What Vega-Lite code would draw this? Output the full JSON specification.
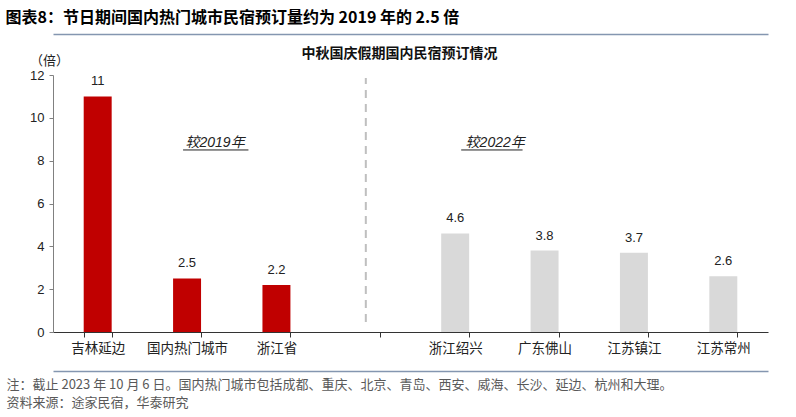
{
  "$schema": "https://vega.github.io/schema/vega-lite/v6.json",
  "width": 715,
  "height": 257,
  "autosize": {"type": "none"},
  "padding": {"left": 53, "top": 75, "right": 28, "bottom": 85},
  "background": "white",
  "config": {"view": {"stroke": null}, "font": "Liberation Sans"},
  "datasets": {
    "bars": [
      {"city": "吉林延边", "ratio": 11, "group": "较2019年"},
      {"city": "国内热门城市", "ratio": 2.5, "group": "较2019年"},
      {"city": "浙江省", "ratio": 2.2, "group": "较2019年"},
      {"city": "浙江绍兴", "ratio": 4.6, "group": "较2022年"},
      {"city": "广东佛山", "ratio": 3.8, "group": "较2022年"},
      {"city": "江苏镇江", "ratio": 3.7, "group": "较2022年"},
      {"city": "江苏常州", "ratio": 2.6, "group": "较2022年"}
    ]
  },
  "resolve": {"axis": {"x": "independent"}},
  "layer": [
    {
      "data": {"name": "bars"},
      "mark": {"type": "bar"},
      "encoding": {
        "x": {
          "field": "city",
          "type": "nominal",
          "scale": {
            "domain": ["吉林延边", "国内热门城市", "浙江省", "gap", "浙江绍兴", "广东佛山", "江苏镇江", "江苏常州"],
            "paddingInner": 0.687,
            "paddingOuter": 0.3435
          },
          "axis": {
            "title": null,
            "labelAngle": 0,
            "labelExpr": "datum.value == 'gap' ? '' : datum.value",
            "labelFont": "Noto Sans CJK SC",
            "labelFontSize": 13.5,
            "labelColor": "#222222",
            "labelPadding": 4,
            "tickBand": "extent",
            "tickSize": 5,
            "tickColor": "#333333",
            "domainColor": "#333333",
            "grid": false
          }
        },
        "y": {
          "field": "ratio",
          "type": "quantitative",
          "scale": {"domain": [0, 12]},
          "axis": {
            "values": [0, 2, 4, 6, 8, 10, 12],
            "grid": false,
            "title": "（倍）",
            "titleAngle": 0,
            "titleX": -4,
            "titleY": -15,
            "titleAlign": "center",
            "titleBaseline": "middle",
            "titleFont": "Noto Sans CJK SC",
            "titleFontWeight": "normal",
            "titleFontSize": 13,
            "titleColor": "#222222",
            "labelFontSize": 13,
            "labelColor": "#222222",
            "labelPadding": 5,
            "tickSize": 4,
            "tickColor": "#808080",
            "domainColor": "#808080"
          }
        },
        "color": {
          "field": "group",
          "type": "nominal",
          "scale": {"domain": ["较2019年", "较2022年"], "range": ["#C00000", "#D9D9D9"]},
          "legend": null
        }
      }
    },
    {
      "data": {"name": "bars"},
      "mark": {"type": "text", "baseline": "middle", "dy": -15, "fontSize": 13, "color": "#222222"},
      "encoding": {
        "x": {"field": "city", "type": "nominal", "axis": null},
        "y": {"field": "ratio", "type": "quantitative"},
        "text": {"field": "ratio", "type": "quantitative"}
      }
    },
    {
      "data": {"values": [{}]},
      "mark": {"type": "rule", "color": "#BFBFBF", "strokeWidth": 2, "strokeDash": [8, 6]},
      "encoding": {
        "x": {"datum": "gap", "type": "nominal", "axis": null},
        "y": {"datum": 0.47, "type": "quantitative"},
        "y2": {"datum": 11.86}
      }
    },
    {
      "data": {"values": [{}]},
      "mark": {"type": "text", "dx": 28, "baseline": "middle", "fontSize": 14, "fontStyle": "italic", "font": "Liberation Sans, Noto Sans CJK SC", "color": "#222222"},
      "encoding": {
        "x": {
          "datum": "国内热门城市",
          "type": "nominal",
          "axis": {
            "orient": "top",
            "offset": 41,
            "domain": true,
            "domainColor": "#8496B0",
            "domainWidth": 1.5,
            "ticks": false,
            "labels": false,
            "grid": false,
            "title": "图表8：节日期间国内热门城市民宿预订量约为 2019 年的 2.5 倍",
            "titleFont": "Noto Sans CJK SC",
            "titleFontSize": 16,
            "titleFontWeight": "bold",
            "titleColor": "#000000",
            "titleX": -48,
            "titleY": -17,
            "titleAlign": "left",
            "titleBaseline": "middle"
          }
        },
        "y": {"datum": 8.82, "type": "quantitative"},
        "text": {"value": "较2019年"}
      }
    },
    {
      "data": {"values": [{}]},
      "mark": {"type": "text", "dx": 40, "baseline": "middle", "fontSize": 14, "fontStyle": "italic", "font": "Liberation Sans, Noto Sans CJK SC", "color": "#222222"},
      "encoding": {
        "x": {
          "datum": "浙江绍兴",
          "type": "nominal",
          "axis": {
            "orient": "top",
            "offset": 0,
            "domain": false,
            "ticks": false,
            "labels": false,
            "grid": false,
            "title": "中秋国庆假期国内民宿预订情况",
            "titleFont": "Noto Sans CJK SC",
            "titleFontSize": 14,
            "titleFontWeight": "bold",
            "titleColor": "#111111",
            "titleX": 346,
            "titleY": -22,
            "titleAlign": "center",
            "titleBaseline": "middle"
          }
        },
        "y": {"datum": 8.82, "type": "quantitative"},
        "text": {"value": "较2022年"}
      }
    },
    {
      "data": {"values": [{}]},
      "mark": {"type": "rule", "color": "#222222", "strokeWidth": 1, "xOffset": -4, "x2Offset": -28},
      "encoding": {
        "x": {
          "datum": "国内热门城市",
          "type": "nominal",
          "axis": {
            "orient": "bottom",
            "offset": 39,
            "domain": true,
            "domainColor": "#8496B0",
            "domainWidth": 1.5,
            "ticks": false,
            "labels": false,
            "grid": false,
            "title": ["注：截止 2023 年 10 月 6 日。国内热门城市包括成都、重庆、北京、青岛、西安、威海、长沙、延边、杭州和大理。", "资料来源：途家民宿，华泰研究"],
            "titleFont": "Noto Sans CJK SC",
            "titleFontSize": 13,
            "titleFontWeight": "normal",
            "titleColor": "#595959",
            "titleX": -47,
            "titleY": 7,
            "titleAlign": "left",
            "titleBaseline": "top",
            "titleLineHeight": 18
          }
        },
        "x2": {"datum": "浙江省"},
        "y": {"datum": 8.5, "type": "quantitative"}
      }
    },
    {
      "data": {"values": [{}]},
      "mark": {"type": "rule", "color": "#222222", "strokeWidth": 1, "xOffset": 6, "x2Offset": -22},
      "encoding": {
        "x": {"datum": "浙江绍兴", "type": "nominal", "axis": null},
        "x2": {"datum": "广东佛山"},
        "y": {"datum": 8.5, "type": "quantitative"}
      }
    }
  ]
}
